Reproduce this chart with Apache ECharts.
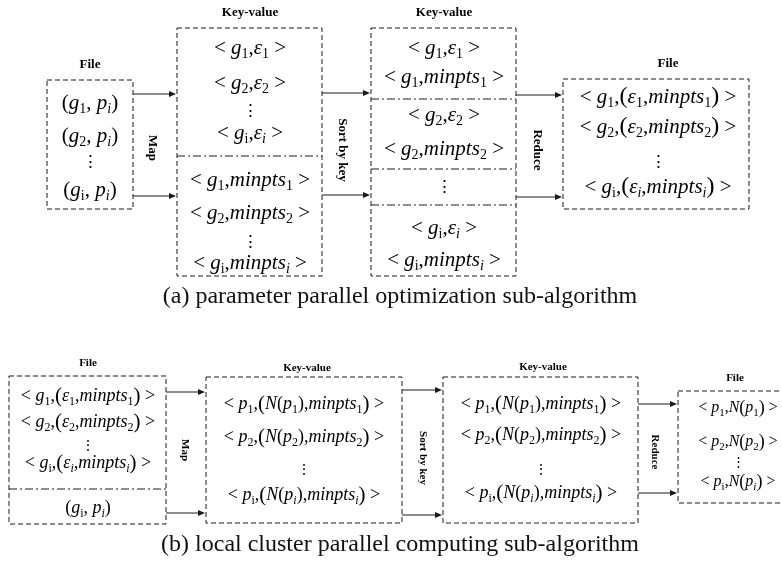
<!DOCTYPE html>
<html><head><meta charset="utf-8">
<script src="https://cdn.jsdelivr.net/npm/echarts@6/dist/echarts.min.js"></script>
<style>html,body{margin:0;padding:0;background:#fff}#c{width:782px;height:563px}</style>
</head><body><div id="c"></div>
<script>
// ---- content ----
const captionA = '(a) parameter parallel optimization sub-algorithm';
const captionB = '(b) local cluster parallel computing sub-algorithm';
const stepLabels = ['Map', 'Sort by key', 'Reduce'];
const stageTitles = ['File', 'Key-value', 'Key-value', 'File'];
const aFile = ['(g_1, p_i)', '(g_2, p_i)', '⋮', '(g_I, p_i)'];
const aMapEps = ['< g_1,ε_1 >', '< g_2,ε_2 >', '⋮', '< g_I,ε_i >'];
const aMapMin = ['< g_1,minpts_1 >', '< g_2,minpts_2 >', '⋮', '< g_I,minpts_i >'];
const aSorted = [['< g_1,ε_1 >', '< g_1,minpts_1 >'], ['< g_2,ε_2 >', '< g_2,minpts_2 >'], ['⋮'], ['< g_I,ε_i >', '< g_I,minpts_i >']];
const aReduced = ['< g_1,(ε_1,minpts_1) >', '< g_2,(ε_2,minpts_2) >', '⋮', '< g_I,(ε_i,minpts_i) >'];
const bFileParams = ['< g_1,(ε_1,minpts_1) >', '< g_2,(ε_2,minpts_2) >', '⋮', '< g_I,(ε_i,minpts_i) >'];
const bFilePoints = ['(g_I, p_i)'];
const bMapped = ['< p_1,(N(p_1),minpts_1) >', '< p_2,(N(p_2),minpts_2) >', '⋮', '< p_I,(N(p_i),minpts_i) >'];
const bSorted = ['< p_1,(N(p_1),minpts_1) >', '< p_2,(N(p_2),minpts_2) >', '⋮', '< p_I,(N(p_i),minpts_i) >'];
const bReduced = ['< p_1,N(p_1) >', '< p_2,N(p_2) >', '⋮', '< p_I,N(p_i) >'];

// ---- helpers ----
const SERIF = '"Liberation Serif","Times New Roman",serif';
const INK = '#1a1a1a';
function toRich(s) {
  let out = '', cur = null, buf = '', depth = 0;
  const bracket = s[0] === '<';
  const push = (st, ch) => {
    if (st !== cur) { if (buf) out += '{' + cur + '|' + buf + '}'; cur = st; buf = ''; }
    buf += ch;
  };
  for (let k = 0; k < s.length; k++) {
    const c = s[k];
    if (c === '_') {
      const d = s[++k];
      if (d === 'I') push('s', 'i');
      else if (/[a-zA-Zε]/.test(d)) push('si', d);
      else push('s', d);
    } else if (/[a-zA-Zε]/.test(c)) push('i', c);
    else if (c === '(') { push(bracket && depth === 0 ? 'P' : 'n', c); depth++; }
    else if (c === ')') { depth--; push(bracket && depth === 0 ? 'P' : 'n', c); }
    else if (c === '⋮') push('d', c);
    else push('n', c);
  }
  if (buf) out += '{' + cur + '|' + buf + '}';
  return out;
}
function richFor(size) {
  const sub = Math.round(size * 0.68);
  const lh = Math.round(size * 1.3);
  return {
    n: { fontSize: size, fontFamily: SERIF, lineHeight: lh, fill: '#000' },
    P: { fontSize: Math.round(size * 1.14), fontFamily: SERIF, fontWeight: 'lighter', lineHeight: lh, fill: '#000' },
    d: { fontSize: Math.round(size * 0.8), fontFamily: SERIF, lineHeight: lh, fill: '#000' },
    i: { fontSize: size, fontFamily: SERIF, fontStyle: 'italic', lineHeight: lh, fill: '#000' },
    s: { fontSize: sub, fontFamily: SERIF, lineHeight: sub, verticalAlign: 'bottom', fill: '#000' },
    si: { fontSize: sub, fontFamily: SERIF, fontStyle: 'italic', lineHeight: sub, verticalAlign: 'bottom', fill: '#000' }
  };
}
const els = [];
function formula(x, y, s, size) {
  els.push({ type: 'text', x, y, style: { text: toRich(s), rich: richFor(size), align: 'center', verticalAlign: 'middle' } });
}
function label(x, y, s, size, rot) {
  els.push({ type: 'text', x, y, rotation: rot || 0,
    style: { text: s, font: 'bold ' + size + 'px ' + SERIF, fill: '#000', align: 'center', verticalAlign: 'middle' } });
}
function plain(x, y, s, size) {
  els.push({ type: 'text', x, y, style: { text: s, font: size + 'px ' + SERIF, fill: '#111', align: 'center', verticalAlign: 'middle' } });
}
function box(x, y, w, h) {
  els.push({ type: 'rect', shape: { x, y, width: w, height: h }, style: { fill: 'none', stroke: INK, lineWidth: 1, lineDash: [5, 3] } });
}
function divider(x1, x2, y) {
  els.push({ type: 'line', shape: { x1, y1: y, x2, y2: y }, style: { stroke: INK, lineWidth: 1, lineDash: [8, 3, 2, 3] } });
}
function arrow(x1, x2, y) {
  els.push({ type: 'line', shape: { x1, y1: y, x2: x2 - 5, y2: y }, style: { stroke: INK, lineWidth: 1 } });
  els.push({ type: 'polygon', shape: { points: [[x2, y], [x2 - 7, y - 3], [x2 - 7, y + 3]] }, style: { fill: INK } });
}
function lines(cx, arr, ys, size) { arr.forEach((s, k) => formula(cx, ys[k], s, size)); }
const ROT = -Math.PI / 2;

// ---- (a) ----
const FA = 21;
label(90, 65, stageTitles[0], 13);
box(47, 80, 86, 129);
lines(90, aFile, [103, 136, 163, 190], FA);
arrow(133, 176, 94); arrow(133, 176, 196);
label(152, 148, stepLabels[0], 13, ROT);

label(250, 13, stageTitles[1], 13);
box(177, 28, 145, 248);
lines(250, aMapEps, [48, 83, 112, 133], FA);
divider(177, 322, 156);
lines(250, aMapMin, [180, 213, 243, 263], FA);
arrow(322, 370, 93); arrow(322, 370, 195);
label(342, 150, stepLabels[1], 13, ROT);

label(444, 13, stageTitles[2], 13);
box(371, 28, 145, 248);
const sortedYs = [[48, 77], [115, 149], [188], [228, 260]];
aSorted.forEach((grp, g) => lines(444, grp, sortedYs[g], FA));
divider(371, 516, 99); divider(371, 516, 169); divider(371, 516, 205);
arrow(516, 562, 95); arrow(516, 562, 197);
label(537, 150, stepLabels[2], 13, ROT);

label(668, 64, stageTitles[3], 13);
box(563, 79, 186, 130);
lines(658, aReduced, [97, 127, 163, 187], FA);

plain(400, 297, captionA, 24);

// ---- (b) ----
const FB = 18;
label(88, 363, stageTitles[0], 11);
box(9, 376, 157, 148);
lines(88, bFileParams, [396, 422, 446, 463], FB);
divider(9, 166, 489);
lines(88, bFilePoints, [508], FB);
arrow(166, 205, 392); arrow(166, 205, 513);
label(185, 450, stepLabels[0], 11, ROT);

label(307, 368, stageTitles[1], 11);
box(206, 377, 196, 146);
lines(304, bMapped, [404, 437, 470, 495], FB);
arrow(402, 442, 390); arrow(402, 442, 515);
label(423, 458, stepLabels[1], 11, ROT);

label(543, 367, stageTitles[2], 11);
box(443, 377, 195, 146);
lines(541, bSorted, [404, 435, 470, 493], FB);
arrow(638, 677, 404); arrow(638, 677, 493);
label(655, 452, stepLabels[2], 11, ROT);

label(735, 378, stageTitles[3], 11);
box(678, 391, 115, 112);
lines(738, bReduced, [408, 442, 463, 482], 16);

plain(400, 545, captionB, 24);

const chart = echarts.init(document.getElementById('c'), null, { renderer: 'canvas' });
chart.setOption({ backgroundColor: '#fff', animation: false, graphic: { elements: els } });
</script></body></html>
